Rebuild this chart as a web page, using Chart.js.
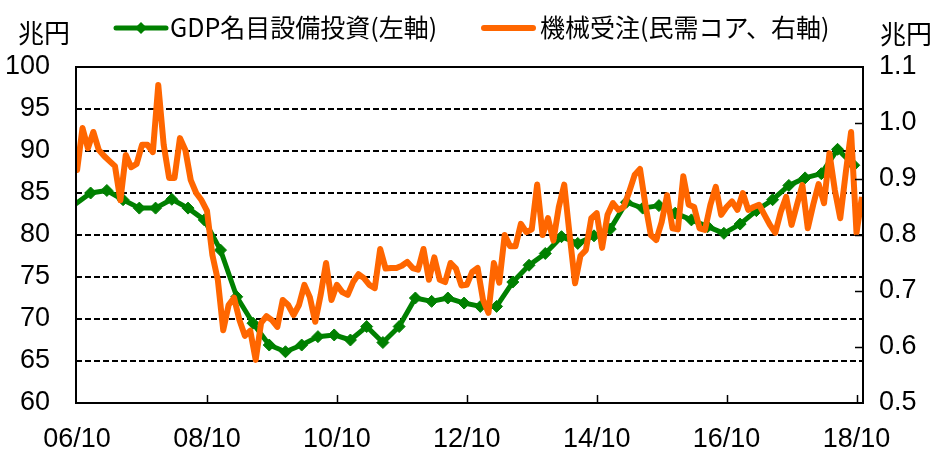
<!DOCTYPE html>
<html lang="ja">
<head>
    <meta charset="UTF-8">
    <title>GDP名目設備投資と機械受注</title>
    <script src="https://cdn.jsdelivr.net/npm/chart.js"></script>
    <style>
        body {
            margin: 0;
            background: #fff;
        }
        .container {
            width: 950px;
            height: 469px;
            position: relative;
        }
    </style>
</head>
<body>
    <div class="container">
        <canvas id="capexChart"></canvas>
    </div>

    <script>
        // x axis is counted in months, 0 = 2006/10
        const xTickMonths = [0, 24, 48, 72, 96, 120, 144];
        const xTickLabels = ['06/10', '08/10', '10/10', '12/10', '14/10', '16/10', '18/10'];

        // 機械受注(民需コア), monthly, 兆円, first value is 2006/09 (month -1)
        const ordersFirstMonth = -1;
        const ordersValues = [
            0.97, 0.916, 0.991, 0.955, 0.984, 0.952, 0.941, 0.932, 0.923, 0.862,
            0.943, 0.921, 0.927, 0.961, 0.961, 0.948, 1.068, 0.961, 0.902, 0.902,
            0.973, 0.952, 0.898, 0.875, 0.862, 0.843, 0.764, 0.720, 0.630, 0.675,
            0.688, 0.648, 0.620, 0.629, 0.577, 0.643, 0.655, 0.648, 0.636, 0.684,
            0.675, 0.657, 0.675, 0.711, 0.689, 0.645, 0.693, 0.750, 0.684, 0.711,
            0.698, 0.693, 0.716, 0.730, 0.723, 0.711, 0.705, 0.775, 0.740, 0.741,
            0.741, 0.745, 0.752, 0.741, 0.738, 0.775, 0.720, 0.760, 0.720, 0.716,
            0.750, 0.740, 0.710, 0.711, 0.734, 0.741, 0.684, 0.661, 0.750, 0.715,
            0.800, 0.780, 0.780, 0.820, 0.805, 0.810, 0.890, 0.800, 0.830, 0.790,
            0.850, 0.890, 0.800, 0.714, 0.763, 0.773, 0.830, 0.839, 0.777, 0.836,
            0.857, 0.845, 0.850, 0.877, 0.907, 0.918, 0.854, 0.800, 0.791, 0.823,
            0.871, 0.812, 0.810, 0.905, 0.854, 0.850, 0.812, 0.809, 0.854, 0.886,
            0.836, 0.850, 0.860, 0.845, 0.875, 0.845, 0.850, 0.854, 0.836, 0.818,
            0.804, 0.841, 0.868, 0.818, 0.854, 0.889, 0.812, 0.854, 0.891, 0.857,
            0.946, 0.880, 0.830, 0.910, 0.984, 0.804, 0.868
        ];

        // GDP名目設備投資, quarterly, 兆円
        const gdpFirstMonth = -0.5;
        const gdpStep = 3;
        const gdpValues = [
            83.6, 85.0, 85.3, 84.2, 83.2, 83.2, 84.25, 83.2, 81.8, 78.2,
            72.65, 69.5, 66.9, 66.1, 66.9, 67.9, 68.1, 67.5, 69.1, 67.2,
            69.1, 72.5, 72.1, 72.5, 71.9, 71.5, 71.5, 74.4, 76.4, 77.8,
            79.8, 79.0, 79.9, 80.7, 83.9, 83.2, 83.5, 82.6, 81.8, 81.0,
            80.2, 81.3, 82.9, 84.2, 85.9, 86.8, 87.3, 90.2, 88.3
        ];

        const leftTicks = { min: 60, max: 100, step: 5 };
        const rightTicks = { min: 0.5, max: 1.1, step: 0.1 };

        const labelGdp = 'GDP名目設備投資(左軸)';
        const labelOrders = '機械受注(民需コア、右軸)';
        const unitText = '兆円';

        const GREEN = '#008000';
        const ORANGE = '#ff6600';
        const X_MIN = -0.2;
        const X_MAX = 145.2;

        const ordersData = ordersValues.map((v, i) => ({ x: ordersFirstMonth + i, y: v }));
        const gdpData = gdpValues.map((v, i) => ({ x: gdpFirstMonth + i * gdpStep, y: v }));

        // frame, inward ticks, units and legend
        const decorPlugin = {
            id: 'decor',
            afterDraw(chart) {
                const ctx = chart.ctx;
                const a = chart.chartArea;
                const xs = chart.scales.x;
                const yr = chart.scales.y1;
                ctx.save();
                ctx.strokeStyle = '#000';
                ctx.lineWidth = 2;
                ctx.strokeRect(a.left, a.top, a.right - a.left, a.bottom - a.top);

                ctx.beginPath();
                xTickMonths.slice(1).forEach(m => {
                    const px = Math.round(xs.getPixelForValue(m)) + 0.5;
                    ctx.moveTo(px, a.bottom);
                    ctx.lineTo(px, a.bottom - 8);
                });
                for (let v = rightTicks.min + rightTicks.step; v < rightTicks.max - 0.01; v += rightTicks.step) {
                    const py = Math.round(yr.getPixelForValue(v)) + 0.5;
                    ctx.moveTo(a.right, py);
                    ctx.lineTo(a.right - 8, py);
                }
                ctx.lineWidth = 1.5;
                ctx.stroke();

                ctx.fillStyle = '#000';
                ctx.textBaseline = 'middle';
                ctx.textAlign = 'left';
                ctx.font = "26px 'Noto Sans CJK JP'";
                ctx.fillText(unitText, 18, 33);
                ctx.fillText(unitText, 880, 34);

                // legend
                ctx.font = "25px 'Noto Sans CJK JP'";
                ctx.lineCap = 'round';
                ctx.strokeStyle = GREEN;
                ctx.lineWidth = 5;
                ctx.beginPath();
                ctx.moveTo(116, 28);
                ctx.lineTo(166, 28);
                ctx.stroke();
                ctx.fillStyle = GREEN;
                ctx.beginPath();
                ctx.moveTo(141, 22);
                ctx.lineTo(147, 28);
                ctx.lineTo(141, 34);
                ctx.lineTo(135, 28);
                ctx.closePath();
                ctx.fill();
                ctx.fillStyle = '#000';
                ctx.fillText(labelGdp, 170, 27);

                ctx.strokeStyle = ORANGE;
                ctx.lineWidth = 6;
                ctx.beginPath();
                ctx.moveTo(484, 28);
                ctx.lineTo(533, 28);
                ctx.stroke();
                ctx.fillText(labelOrders, 540, 27);
                ctx.restore();
            }
        };

        Chart.defaults.font.family = "'Liberation Sans', Arial, sans-serif";
        Chart.defaults.color = '#000';

        const ctx = document.getElementById('capexChart').getContext('2d');
        new Chart(ctx, {
            type: 'line',
            data: {
                datasets: [
                    {
                        label: labelOrders,
                        data: ordersData,
                        yAxisID: 'y1',
                        borderColor: ORANGE,
                        borderWidth: 6,
                        borderJoinStyle: 'round',
                        pointRadius: 0,
                        tension: 0,
                        clip: 0,
                        order: 0
                    },
                    {
                        label: labelGdp,
                        data: gdpData,
                        yAxisID: 'y',
                        borderColor: GREEN,
                        backgroundColor: GREEN,
                        borderWidth: 5,
                        borderJoinStyle: 'round',
                        pointStyle: 'rectRot',
                        pointRadius: c => (c.raw && c.raw.x < X_MIN ? 0 : 6),
                        pointBorderWidth: 1,
                        tension: 0,
                        clip: 0,
                        order: 1
                    }
                ]
            },
            options: {
                responsive: true,
                maintainAspectRatio: false,
                animation: false,
                layout: {
                    padding: { top: 67, left: 0, right: 0, bottom: 0 }
                },
                plugins: {
                    legend: { display: false },
                    tooltip: { enabled: false }
                },
                scales: {
                    x: {
                        type: 'linear',
                        min: X_MIN,
                        max: X_MAX,
                        afterBuildTicks: scale => {
                            scale.ticks = xTickMonths.map(v => ({ value: v }));
                        },
                        afterFit: scale => { scale.height = 66; },
                        grid: { display: false, drawTicks: false },
                        border: { display: false },
                        ticks: {
                            font: { size: 27 },
                            padding: 20,
                            maxRotation: 0,
                            autoSkip: false,
                            callback: v => xTickLabels[xTickMonths.indexOf(v)]
                        }
                    },
                    y: {
                        position: 'left',
                        min: leftTicks.min,
                        max: leftTicks.max,
                        afterFit: scale => { scale.width = 76; },
                        grid: {
                            drawTicks: false,
                            color: c => (c.tick && (c.tick.value === leftTicks.min || c.tick.value === leftTicks.max) ? 'rgba(0,0,0,0)' : '#000'),
                            lineWidth: 2
                        },
                        border: { display: false, dash: [6, 3] },
                        ticks: {
                            stepSize: leftTicks.step,
                            font: { size: 27 },
                            padding: 26
                        }
                    },
                    y1: {
                        position: 'right',
                        min: rightTicks.min,
                        max: rightTicks.max,
                        afterFit: scale => { scale.width = 87; },
                        grid: { drawOnChartArea: false, drawTicks: false },
                        border: { display: false },
                        ticks: {
                            stepSize: rightTicks.step,
                            font: { size: 27 },
                            padding: 16,
                            callback: v => v.toFixed(1)
                        }
                    }
                }
            },
            plugins: [decorPlugin]
        });
    </script>
</body>
</html>
